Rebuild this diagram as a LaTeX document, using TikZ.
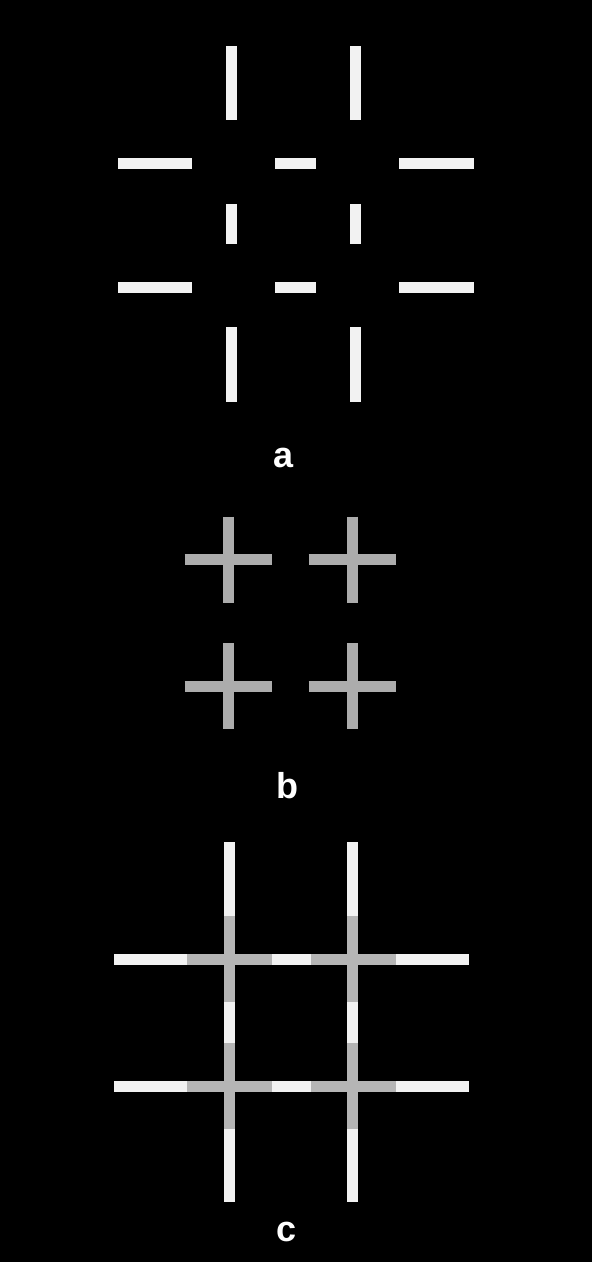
\documentclass[tikz,border=0pt]{standalone}
\usepackage{fontspec}
\setmainfont{Liberation Sans}
\begin{document}
\begin{tikzpicture}[x=1pt,y=-1pt,
  wbar/.style={line width=11pt,draw=white!95!black,line cap=butt},
  gbar/.style={line width=11pt,draw=gray!65,line cap=butt},
  gbarc/.style={line width=11pt,draw=gray!58,line cap=butt},
  lab/.style={text=white,font=\fontsize{36}{36}\selectfont\bfseries,inner sep=0pt}]
\fill[black] (0,0) rectangle (592,1262);
\useasboundingbox (0,0) rectangle (592,1262);
% ---- panel a ----
\foreach \x in {231,355}{
  \draw[wbar] (\x,46) -- (\x,120);
  \draw[wbar] (\x,204) -- (\x,244);
  \draw[wbar] (\x,327) -- (\x,402);
}
\foreach \y in {163,287}{
  \draw[wbar] (118,\y) -- (192,\y);
  \draw[wbar] (275,\y) -- (316,\y);
  \draw[wbar] (399,\y) -- (474,\y);
}
\node[lab] (la) at (284,458) {a};
% ---- panel b ----
\foreach \x/\y in {228/559.5,352/559.5,228/686,352/686}{
  \draw[gbar] (\x,\y-43) -- (\x,\y+43);
  \draw[gbar] (\x-43.5,\y) -- (\x+43.5,\y);
}
\node[lab] (lb) at (287.5,786) {b};
% ---- panel c ----
\foreach \x in {229,352.5}{
  \draw[wbar] (\x,842) -- (\x,1202);
}
\foreach \y in {959,1086}{
  \draw[wbar] (114,\y) -- (469,\y);
}
\foreach \x in {229,352.5}{
  \foreach \y in {959,1086}{
    \draw[gbarc] (\x,\y-43) -- (\x,\y+43);
    \draw[gbarc] (\x-42,\y) -- (\x+43,\y);
  }
}
\node[lab] (lc) at (287,1232) {c};
\end{tikzpicture}
\end{document}
